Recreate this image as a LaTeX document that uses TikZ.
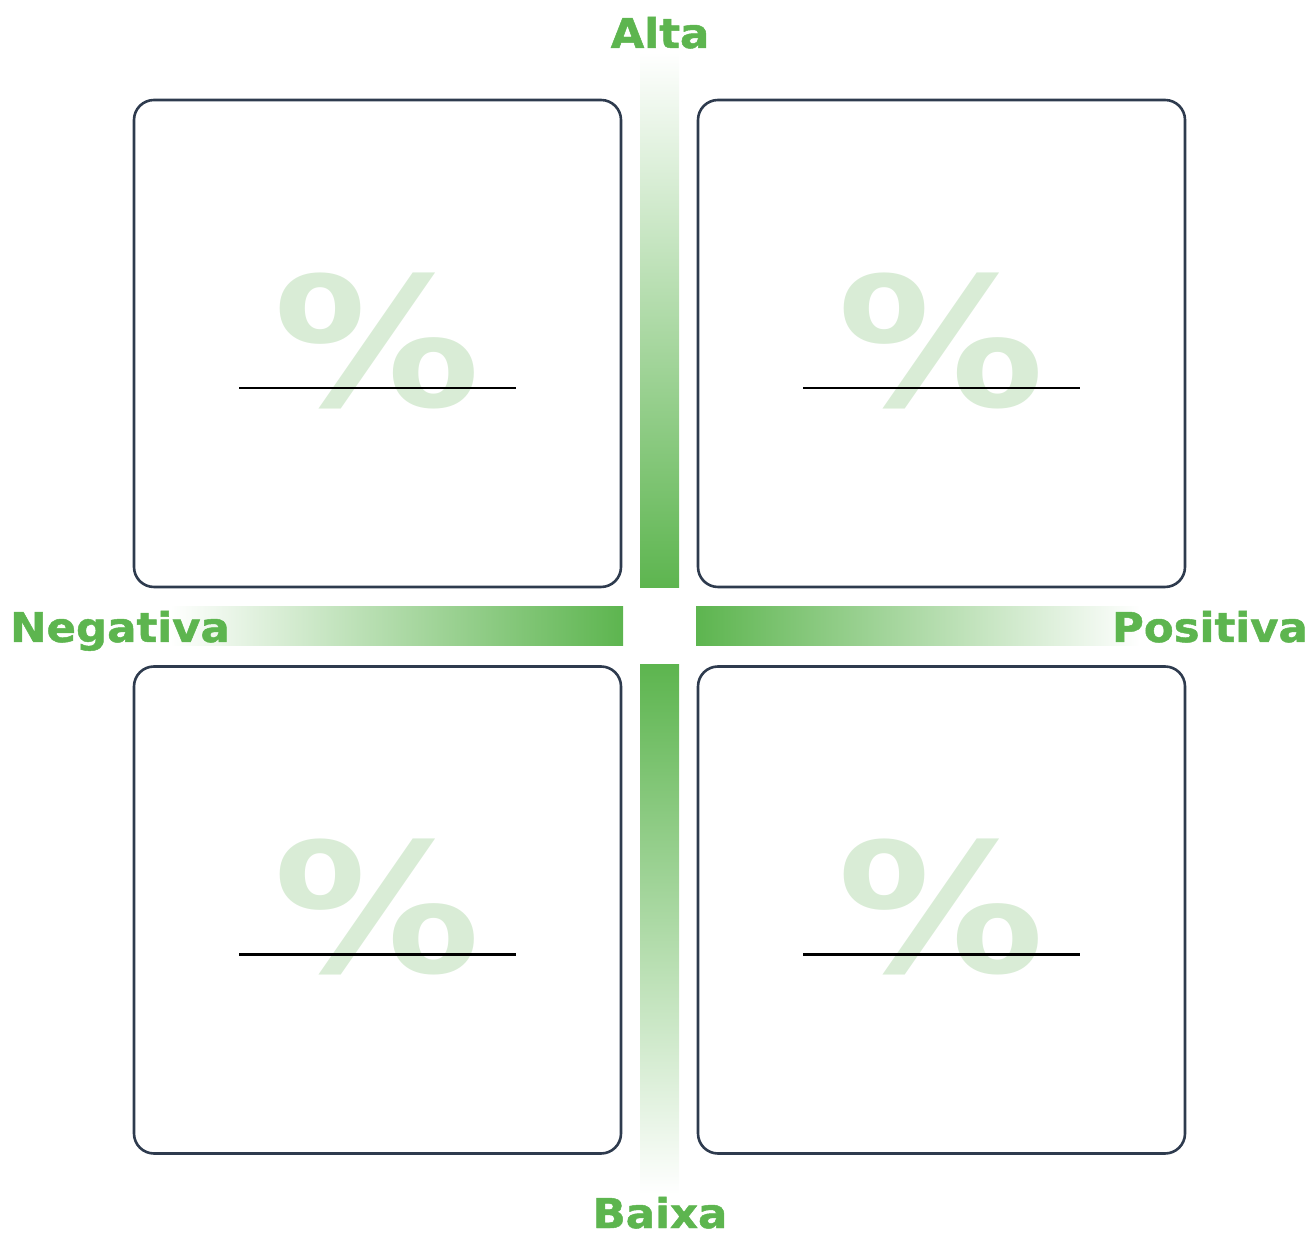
\documentclass[tikz,border=0pt]{standalone}
\usepackage{fontspec}
\newfontfamily\axisfont{DejaVu Sans Bold}[FakeStretch=1.06, FakeBold=1.2]
\newfontfamily\pctfont{DejaVu Sans Bold}
\definecolor{axisgreen}{HTML}{5DB54F}
\definecolor{pctgreen}{HTML}{D9ECD6}
\definecolor{frame}{HTML}{2E3B4E}

\begin{document}
\begin{tikzpicture}[
    x=1pt, y=1pt,
    quad/.style={
        draw=frame,
        line width=2.6pt,
        rounded corners=20pt,
        minimum width=487pt,
        minimum height=487pt,
        inner sep=0pt
    },
    pct/.style={
        text=pctgreen,
        font=\pctfont\fontsize{180}{180}\selectfont,
        xscale=1.15,
        inner sep=0pt
    },
    blank/.style={line width=2.6pt, draw=black},
    axislabel/.style={
        text=axisgreen,
        font=\axisfont\fontsize{41}{46}\selectfont,
        inner sep=0pt,
        anchor=base
    }
]
    \useasboundingbox (0,0) rectangle (1313,1236);

    % gradient bars
    \shade[top color=white, bottom color=axisgreen] (640,648) rectangle (679,1184);
    \shade[top color=axisgreen, bottom color=white] (640,42) rectangle (679,571);
    \shade[left color=white, right color=axisgreen] (170,590) rectangle (623,629);
    \shade[left color=axisgreen, right color=white] (696,590) rectangle (1140,629);

    % quadrants
    \node[quad] (q1) at (377.5,892.5) {};
    \node[quad] (q2) at (941.5,892.5) {};
    \node[quad] (q3) at (377.5,326) {};
    \node[quad] (q4) at (941.5,326) {};

    \foreach \q in {q1,q2,q3,q4} {
        \node[pct] (\q p) at ([yshift=3pt]\q.center) {\%};
        \draw[blank] ([xshift=-138.5pt,yshift=-44.5pt]\q.center) -- ([xshift=138.5pt,yshift=-44.5pt]\q.center);
    }

    % axis labels
    \node[axislabel] (alta) at (660,1188) {Alta};
    \node[axislabel] (baixa) at (660,8) {Baixa};
    \node[axislabel, anchor=base west] (neg) at (10,594) {Negativa};
    \node[axislabel, anchor=base east] (pos) at (1308,594) {Positiva};
\end{tikzpicture}
\end{document}
